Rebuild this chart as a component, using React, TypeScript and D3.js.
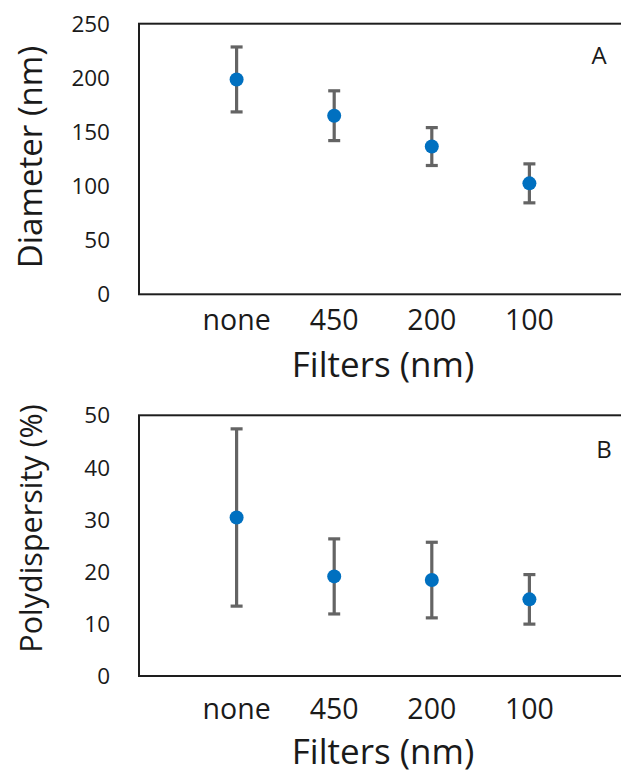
import React from "react";
import * as d3 from "d3";

// Filter categories and measured values (mean ± SD)
const categories = ["none", "450", "200", "100"];
const diameterMean = [198.5, 165, 136.5, 102.5];
const diameterSD = [30, 23, 17.5, 18];
const pdiMean = [30.4, 19.1, 18.4, 14.7];
const pdiSD = [17, 7.2, 7.25, 4.75];
const diameterTicks = [0, 50, 100, 150, 200, 250];
const pdiTicks = [0, 10, 20, 30, 40, 50];

const FONT = "'Open Sans', 'Noto Sans', sans-serif";
const W = 621;
const H = 773;

type PanelProps = {
  top: number;
  bottom: number;
  yMax: number;
  ticks: number[];
  means: number[];
  sds: number[];
  yTitle: string;
  yTitleSize: number;
  yTitleCenter: number;
  letter: string;
  letterX: number;
  letterY: number;
  tickBaseline: number;
  titleBaseline: number;
};

function Panel(p: PanelProps) {
  const left = 139;
  const right = 627;
  const x = d3.scaleLinear().domain([0, categories.length + 1]).range([left, right]);
  const y = d3.scaleLinear().domain([0, p.yMax]).range([p.bottom, p.top]);
  const capHalf = 6;
  return (
    <g>
      <rect x={left} y={p.top} width={right - left} height={p.bottom - p.top}
        fill="none" stroke="#1e1e1e" strokeWidth={2} />
      {p.ticks.map((t) => (
        <text key={t} x={110} y={y(t)} dy="0.36em" textAnchor="end"
          fontFamily={FONT} fontSize={22.5} fill="#1a1a1a">{t}</text>
      ))}
      {categories.map((c, i) => (
        <text key={c} x={x(i + 1)} y={p.tickBaseline} textAnchor="middle"
          fontFamily={FONT} fontSize={28.5} fill="#1a1a1a">{c}</text>
      ))}
      {categories.map((c, i) => {
        const cx = x(i + 1);
        const hi = y(p.means[i] + p.sds[i]);
        const lo = y(p.means[i] - p.sds[i]);
        return (
          <g key={"e" + c} stroke="#646464" strokeWidth={3.2}>
            <line x1={cx} x2={cx} y1={hi} y2={lo} />
            <line x1={cx - capHalf} x2={cx + capHalf} y1={hi} y2={hi} />
            <line x1={cx - capHalf} x2={cx + capHalf} y1={lo} y2={lo} />
          </g>
        );
      })}
      {categories.map((c, i) => (
        <circle key={"p" + c} cx={x(i + 1)} cy={y(p.means[i])} r={7} fill="#0070C0" />
      ))}
      <text x={(left + right) / 2} y={p.titleBaseline} textAnchor="middle"
        fontFamily={FONT} fontSize={35} fill="#1a1a1a">Filters (nm)</text>
      <text transform={`translate(42,${p.yTitleCenter}) rotate(-90)`} textAnchor="middle"
        fontFamily={FONT} fontSize={p.yTitleSize} fill="#1a1a1a">{p.yTitle}</text>
      <text x={p.letterX} y={p.letterY} textAnchor="middle"
        fontFamily={FONT} fontSize={24} fill="#1a1a1a">{p.letter}</text>
    </g>
  );
}

export default function App() {
  return (
    <div style={{ position: "absolute", left: 0, top: 0 }}>
      <svg width={W} height={H} style={{ display: "block", background: "#fff" }}>
        <Panel top={23.7} bottom={294.3} yMax={250} ticks={diameterTicks}
          means={diameterMean} sds={diameterSD} yTitle="Diameter (nm)" yTitleSize={33}
          yTitleCenter={157} letter="A" letterX={599} letterY={64}
          tickBaseline={330} titleBaseline={377} />
        <Panel top={415.3} bottom={676} yMax={50} ticks={pdiTicks}
          means={pdiMean} sds={pdiSD} yTitle="Polydispersity (%)" yTitleSize={30.5}
          yTitleCenter={528.5} letter="B" letterX={604} letterY={458}
          tickBaseline={719} titleBaseline={764} />
      </svg>
    </div>
  );
}
